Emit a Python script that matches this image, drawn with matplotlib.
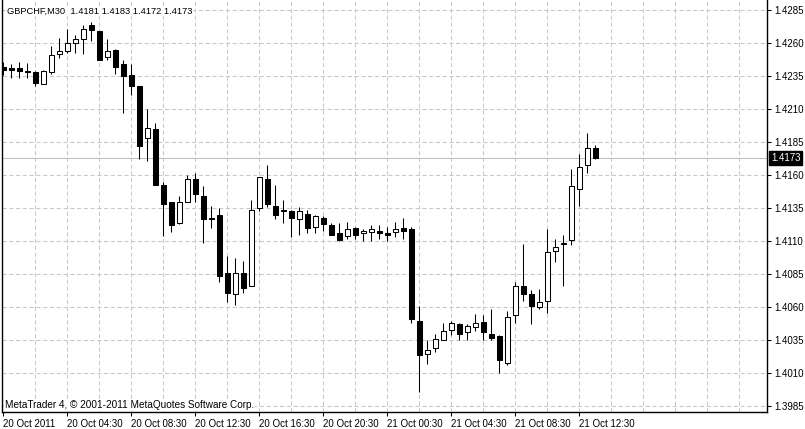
import matplotlib
matplotlib.use('Agg')
import matplotlib.pyplot as plt

# GBPCHF M30 candles, 20 Oct 2011 00:30 -> 21 Oct 2011 13:30
opens = [1.4242, 1.4241, 1.4241, 1.4239, 1.4238, 1.4229, 1.4238, 1.4252, 1.4254, 1.4260,
         1.4263, 1.4274, 1.4269, 1.4250, 1.4255, 1.4244, 1.4236, 1.4228, 1.4188, 1.4195,
         1.4153, 1.4140, 1.4124, 1.4140, 1.4157, 1.4144, 1.4127, 1.4130, 1.4086, 1.4070,
         1.4086, 1.4076, 1.4135, 1.4157, 1.4137, 1.4134, 1.4133, 1.4127, 1.4131, 1.4121,
         1.4128, 1.4122, 1.4116, 1.4114, 1.4120, 1.4116, 1.4117, 1.4118, 1.4116, 1.4117,
         1.4120, 1.4119, 1.4050, 1.4025, 1.4029, 1.4035, 1.4043, 1.4047, 1.4041, 1.4045,
         1.4049, 1.4040, 1.4038, 1.4018, 1.4054, 1.4076, 1.4070, 1.4060, 1.4065, 1.4103,
         1.4108, 1.4111, 1.4150, 1.4168, 1.4181]
highs = [1.4246, 1.4244, 1.4246, 1.4245, 1.4239, 1.4240, 1.4258, 1.4264, 1.4271, 1.4266,
         1.4274, 1.4276, 1.4269, 1.4263, 1.4256, 1.4247, 1.4244, 1.4228, 1.4210, 1.4200,
         1.4155, 1.4140, 1.4144, 1.4160, 1.4162, 1.4152, 1.4137, 1.4135, 1.4099, 1.4097,
         1.4095, 1.4141, 1.4159, 1.4168, 1.4153, 1.4141, 1.4134, 1.4136, 1.4134, 1.4130,
         1.4129, 1.4124, 1.4124, 1.4125, 1.4121, 1.4119, 1.4122, 1.4122, 1.4121, 1.4125,
         1.4128, 1.4121, 1.4061, 1.4035, 1.4040, 1.4048, 1.4050, 1.4048, 1.4047, 1.4055,
         1.4054, 1.4059, 1.4039, 1.4057, 1.4079, 1.4108, 1.4073, 1.4074, 1.4119, 1.4112,
         1.4115, 1.4165, 1.4176, 1.4192, 1.4183]
lows = [1.4236, 1.4234, 1.4234, 1.4234, 1.4228, 1.4229, 1.4237, 1.4249, 1.4253, 1.4253,
        1.4252, 1.4262, 1.4247, 1.4247, 1.4237, 1.4207, 1.4221, 1.4172, 1.4171, 1.4153,
        1.4114, 1.4117, 1.4123, 1.4140, 1.4140, 1.4109, 1.4120, 1.4079, 1.4064, 1.4062,
        1.4071, 1.4076, 1.4133, 1.4136, 1.4127, 1.4124, 1.4113, 1.4115, 1.4116, 1.4116,
        1.4118, 1.4115, 1.4110, 1.4112, 1.4112, 1.4110, 1.4110, 1.4112, 1.4110, 1.4113,
        1.4112, 1.4048, 1.3996, 1.4017, 1.4026, 1.4035, 1.4039, 1.4035, 1.4035, 1.4042,
        1.4035, 1.4035, 1.4010, 1.4016, 1.4048, 1.4065, 1.4047, 1.4059, 1.4056, 1.4094,
        1.4076, 1.4107, 1.4137, 1.4162, 1.4172]
closes = [1.4240, 1.4240, 1.4239, 1.4238, 1.4230, 1.4239, 1.4251, 1.4254, 1.4260, 1.4263,
          1.4271, 1.4270, 1.4247, 1.4254, 1.4242, 1.4235, 1.4228, 1.4182, 1.4196, 1.4153,
          1.4138, 1.4122, 1.4140, 1.4157, 1.4146, 1.4127, 1.4128, 1.4084, 1.4071, 1.4086,
          1.4075, 1.4134, 1.4159, 1.4138, 1.4130, 1.4133, 1.4128, 1.4133, 1.4120, 1.4129,
          1.4123, 1.4115, 1.4111, 1.4119, 1.4115, 1.4118, 1.4119, 1.4116, 1.4115, 1.4119,
          1.4118, 1.4051, 1.4024, 1.4028, 1.4036, 1.4042, 1.4048, 1.4040, 1.4046, 1.4048,
          1.4041, 1.4037, 1.4020, 1.4053, 1.4076, 1.4070, 1.4061, 1.4064, 1.4102, 1.4106,
          1.4109, 1.4152, 1.4166, 1.4181, 1.4173]

price_ticks = [1.3985, 1.4010, 1.4035, 1.4060, 1.4085, 1.4110, 1.4135,
               1.4160, 1.4185, 1.4210, 1.4235, 1.4260, 1.4285]
time_labels = ['20 Oct 2011', '20 Oct 04:30', '20 Oct 08:30', '20 Oct 12:30', '20 Oct 16:30',
               '20 Oct 20:30', '21 Oct 00:30', '21 Oct 04:30', '21 Oct 08:30', '21 Oct 12:30']
label_bars = [0, 8, 16, 24, 32, 40, 48, 56, 64, 72]
grid_bars = [4, 8, 12, 16, 20, 24, 28, 32, 36, 40, 44, 48, 52, 56, 60, 64, 68, 72, 76, 80, 84, 88, 92]
last_price = 1.4173
title = 'GBPCHF,M30  1.4181 1.4183 1.4172 1.4173'
footer = 'MetaTrader 4, \u00a9 2001-2011 MetaQuotes Software Corp.'

plt.rcParams['font.family'] = ['Liberation Sans', 'DejaVu Sans']
FS = 7.0
LW = 0.75

W, H = 805, 429
fig = plt.figure(figsize=(W / 100, H / 100), dpi=100)
ax = fig.add_axes([2 / W, 17 / H, 765 / W, 412 / H])
ax.set_xlim(-0.16, 95.46)
ax.set_ylim(1.398071, 1.429283)

# grid
grid_style = dict(color='#c8c8c8', linewidth=LW, linestyle=(0, (4, 2.5)), zorder=1)
for p in price_ticks:
    ax.axhline(p, **grid_style)
for b in grid_bars:
    ax.axvline(b, **grid_style)

ax.axhline(last_price, color='#c0c0c0', linewidth=LW, zorder=1.5)

# candles
xs = list(range(len(opens)))
ax.vlines(xs, lows, highs, colors='black', linewidth=LW, zorder=3)
bottoms = [min(o, c) for o, c in zip(opens, closes)]
heights = [abs(c - o) for o, c in zip(opens, closes)]
faces = ['white' if c >= o else 'black' for o, c in zip(opens, closes)]
ax.bar(xs, heights, width=0.58, bottom=bottoms, color=faces, edgecolor='black',
       linewidth=LW, zorder=4)

# axes look
ax.spines['top'].set_visible(False)
for s in ['left', 'right', 'bottom']:
    ax.spines[s].set_linewidth(1.0)
    ax.spines[s].set_color('black')

ax.yaxis.tick_right()
ax.set_yticks(price_ticks)
ax.set_yticklabels(['%.4f' % p for p in price_ticks], fontsize=FS)
ax.tick_params(axis='y', direction='out', length=3, width=LW, pad=2)

ax.set_xticks(label_bars)
ax.set_xticklabels(time_labels, fontsize=FS, ha='left')
ax.tick_params(axis='x', direction='out', length=3, width=LW, pad=2)

# last price tag
ax.text(1.005, last_price, '1.4173', transform=ax.get_yaxis_transform(), color='white',
        fontsize=FS, va='center', ha='left',
        bbox=dict(boxstyle='square,pad=0.2', fc='black', ec='black'))

# header and footer text
ax.text(5 / 765, 1 - 11 / 412, title, transform=ax.transAxes, fontsize=6.7,
        va='center', ha='left', zorder=6,
        bbox=dict(boxstyle='square,pad=0.1', fc='white', ec='none'))
ax.text(3 / 765, 7 / 412, footer, transform=ax.transAxes, fontsize=7.2,
        va='center', ha='left', zorder=6,
        bbox=dict(boxstyle='square,pad=0.1', fc='white', ec='none'))

fig.savefig('out.png', dpi=100)
